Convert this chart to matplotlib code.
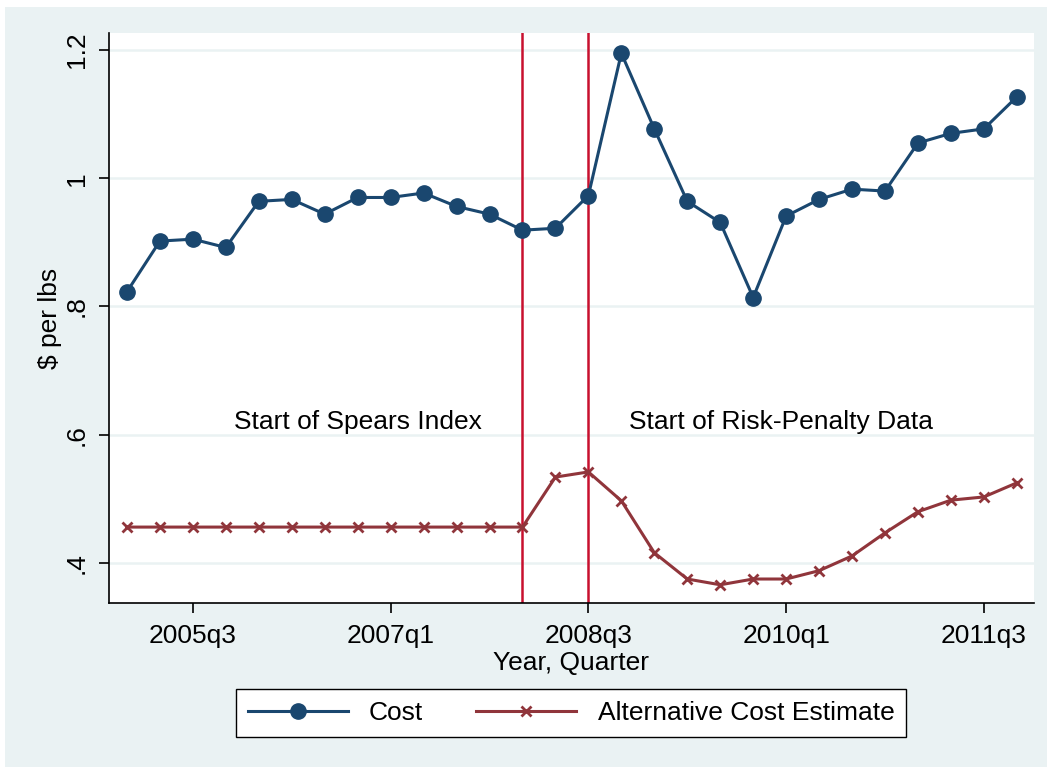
import matplotlib.pyplot as plt
from matplotlib.patches import Rectangle

plt.rcParams['font.family'] = ['Liberation Sans', 'DejaVu Sans']

# quarters 2005q1 .. 2011q4
quarters = [f"{y}q{q}" for y in range(2005, 2012) for q in range(1, 5)]

cost = [0.823, 0.902, 0.905, 0.892, 0.964, 0.967, 0.944, 0.970,
        0.970, 0.977, 0.956, 0.944, 0.919, 0.922, 0.973, 1.195,
        1.077, 0.964, 0.931, 0.814, 0.941, 0.967, 0.983, 0.980,
        1.055, 1.070, 1.077, 1.127]

alt_cost = [0.456, 0.456, 0.456, 0.456, 0.456, 0.456, 0.456, 0.456,
            0.456, 0.456, 0.456, 0.456, 0.456, 0.534, 0.542, 0.497,
            0.416, 0.375, 0.366, 0.375, 0.375, 0.388, 0.411, 0.447,
            0.480, 0.498, 0.503, 0.525]

xtick_labels = ["2005q3", "2007q1", "2008q3", "2010q1", "2011q3"]
ytick_vals = [0.4, 0.6, 0.8, 1.0, 1.2]
ytick_labels = [".4", ".6", ".8", "1", "1.2"]
event_quarters = ["2008q1", "2008q3"]

bg = '#EAF2F3'
blue = '#1A476F'
maroon = '#90353B'
vred = '#C8102E'
fs = 19

fig = plt.figure(figsize=(10.47, 7.67), dpi=100)
fig.patch.set_facecolor('white')
fig.patches.append(Rectangle((5 / 1047, 0), 1, 1 - 7 / 767, transform=fig.transFigure,
                             facecolor=bg, edgecolor='none', zorder=-10))

ax = fig.add_axes([108.5 / 1047, 1 - 603 / 767, (1034 - 108.5) / 1047, (603 - 33) / 767])
ax.set_facecolor('white')

x = list(range(len(quarters)))
ax.plot(x, cost, color=blue, lw=2.2, marker='o', ms=11, label='Cost', zorder=3)
ax.plot(x, alt_cost, color=maroon, lw=2.2, marker='x', ms=7, mew=2, label='Alternative Cost Estimate', zorder=3)

for q in event_quarters:
    ax.axvline(quarters.index(q), color=vred, lw=1.8, zorder=2)

ax.text(7, 0.62, "Start of Spears Index", ha='center', va='center', fontsize=fs)
ax.text(19.85, 0.62, "Start of Risk-Penalty Data", ha='center', va='center', fontsize=fs)

ax.set_xlim(-0.56, 27.52)
ax.set_ylim(0.3376, 1.2265)
ax.set_xticks([quarters.index(l) for l in xtick_labels])
ax.set_xticklabels(xtick_labels, fontsize=fs)
ax.set_yticks(ytick_vals)
ax.set_yticklabels(ytick_labels, fontsize=fs, rotation=90, va='center')
ax.tick_params(direction='out', length=7, width=1.2, color='black')
ax.tick_params(axis='y', pad=7)
ax.tick_params(axis='x', pad=8)

ax.grid(axis='y', color=bg, lw=1.8, zorder=0)
ax.set_axisbelow(True)
for s in ['top', 'right']:
    ax.spines[s].set_visible(False)
for s in ['left', 'bottom']:
    ax.spines[s].set_linewidth(1.2)

ax.set_xlabel("Year, Quarter", fontsize=fs, labelpad=2)
ax.set_ylabel(r"\$ per lbs", fontsize=fs, labelpad=2)

leg = fig.legend(loc='center', bbox_to_anchor=(571 / 1047, 1 - 713 / 767), ncol=2, fontsize=fs,
                 frameon=True, fancybox=False, edgecolor='black', facecolor='white', framealpha=1,
                 handlelength=3.8, columnspacing=2.0, borderpad=0.45, handletextpad=0.8)
leg.get_frame().set_linewidth(1.0)

fig.savefig('out.png', dpi=100)
